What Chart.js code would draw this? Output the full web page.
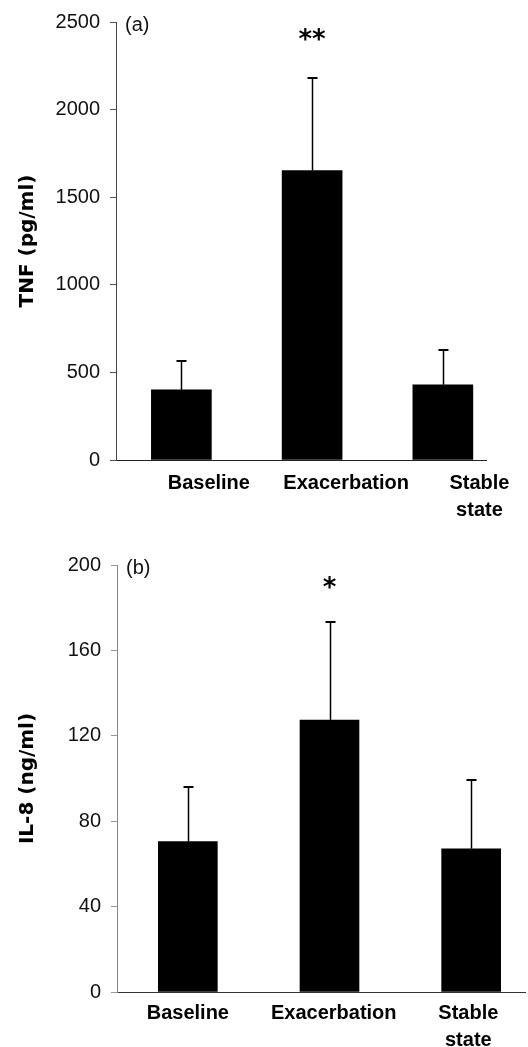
<!DOCTYPE html>
<html>
<head>
<meta charset="utf-8">
<script src="https://cdn.jsdelivr.net/npm/chart.js@4/dist/chart.umd.min.js"></script>
<style>
  html, body { margin: 0; padding: 0; background: #fff; }
  #wrap { position: relative; width: 528px; height: 1047px; overflow: hidden; }
  canvas { position: absolute; left: 0; }
  #tnf { top: 0; }
  #il8 { top: 520px; }
</style>
</head>
<body>
<div id="wrap">
  <canvas id="tnf" width="528" height="520"></canvas>
  <canvas id="il8" width="528" height="527"></canvas>
</div>
<script>
// Sputum cytokines at baseline, exacerbation and recovered stable state (mean + SEM)
const categories = ['Baseline', 'Exacerbation', 'Stable state'];

const tnfMean = [400, 1652, 429];
const tnfSem = [166, 526, 200];
const tnfTicks = [0, 500, 1000, 1500, 2000, 2500];

const il8Mean = [70.4, 127.4, 67.1];
const il8Sem = [25.5, 45.9, 32.2];
const il8Ticks = [0, 40, 80, 120, 160, 200];

// Upper whiskers, panel letter and significance stars
const whiskers = {
  id: 'whiskers',
  afterDatasetsDraw(chart, args, opts) {
    const { ctx, scales: { x, y } } = chart;
    const pts = chart.data.datasets[0].data;
    ctx.save();
    ctx.strokeStyle = '#000';
    pts.forEach((p, i) => {
      const px = Math.round(x.getPixelForValue(p.x)) + 0.5;
      const y0 = y.getPixelForValue(p.y);
      const y1 = Math.round(y.getPixelForValue(p.y + opts.errors[i]));
      ctx.lineWidth = 1.5;
      ctx.beginPath();
      ctx.moveTo(px, y0);
      ctx.lineTo(px, y1);
      ctx.stroke();
      ctx.lineWidth = 2;
      ctx.beginPath();
      ctx.moveTo(px - 5, y1);
      ctx.lineTo(px + 5, y1);
      ctx.stroke();
    });
    ctx.fillStyle = '#111';
    ctx.font = '20px "Liberation Sans"';
    ctx.textAlign = 'left';
    ctx.textBaseline = 'middle';
    ctx.fillText(opts.letter, chart.chartArea.left + 9, y.getPixelForValue(y.max) + 3);
    const si = opts.starIndex;
    ctx.fillStyle = '#000';
    ctx.font = 'bold 26px "DejaVu Sans"';
    ctx.textAlign = 'center';
    ctx.textBaseline = 'alphabetic';
    ctx.fillText(opts.stars, x.getPixelForValue(pts[si].x),
      y.getPixelForValue(pts[si].y + opts.errors[si]) - opts.starGap);
    ctx.restore();
  }
};

function makeChart(id, c) {
  return new Chart(document.getElementById(id), {
    type: 'bar',
    data: {
      datasets: [{
        data: c.means.map((v, i) => ({ x: i, y: v })),
        backgroundColor: '#000',
        borderWidth: 0,
        barThickness: c.barWidth
      }]
    },
    options: {
      responsive: false,
      animation: false,
      devicePixelRatio: 1,
      layout: { padding: { top: c.padTop, right: c.padRight, left: 0, bottom: 0 } },
      scales: {
        x: {
          type: 'linear',
          offset: false,
          bounds: 'data',
          min: -0.5,
          max: c.xMax,
          afterBuildTicks: s => { s.ticks = categories.map((n, i) => ({ value: i + c.labelNudge[i] })); },
          afterFit: s => { s.height = c.xAxisHeight; },
          grid: { display: false, drawTicks: false, offset: false },
          border: { display: true, color: c.xBorderColor, width: 1, dash: c.xBorderDash },
          ticks: {
            autoSkip: false,
            maxRotation: 0,
            minRotation: 0,
            padding: c.xTickPad,
            color: '#000',
            font: { family: '"Liberation Sans", Arial, sans-serif', size: 20, weight: 'bold', lineHeight: 1.35 },
            callback: (v, i) => categories[i].split(' ')
          }
        },
        y: {
          type: 'linear',
          min: c.ticks[0],
          max: c.ticks[c.ticks.length - 1],
          afterBuildTicks: s => { s.ticks = c.ticks.map(v => ({ value: v })); },
          afterFit: s => { s.width = c.axisLeft; },
          grid: { drawOnChartArea: false, drawTicks: true, tickLength: 6, tickColor: c.tickColor, tickWidth: 1 },
          border: { display: true, color: c.yBorderColor, width: 1, dash: c.yBorderDash },
          ticks: {
            padding: 10,
            color: '#111',
            font: { family: '"Liberation Sans"', size: 20 },
            callback: v => String(v)
          },
          title: {
            display: true,
            text: c.title,
            color: '#000',
            font: { family: '"DejaVu Sans"', size: 20, weight: 'bold' },
            padding: { top: 16, bottom: 0 }
          }
        }
      },
      plugins: {
        legend: { display: false },
        tooltip: { enabled: false },
        whiskers: {
          errors: c.errors,
          letter: c.letter,
          stars: c.stars,
          starIndex: 1,
          starGap: c.starGap
        }
      }
    },
    plugins: [whiskers]
  });
}

makeChart('tnf', {
  means: tnfMean, errors: tnfSem, ticks: tnfTicks,
  title: 'TNF (pg/ml)', letter: '(a)', stars: '**', starGap: 30,
  barWidth: 60, xMax: 2.33, labelNudge: [0.21, 0.26, 0.28],
  padTop: 22, padRight: 42, axisLeft: 116, xAxisHeight: 60, xTickPad: 10,
  xBorderColor: '#222', xBorderDash: [],
  yBorderColor: '#444', yBorderDash: [5, 3], tickColor: '#555'
});

makeChart('il8', {
  means: il8Mean, errors: il8Sem, ticks: il8Ticks,
  title: 'IL-8 (ng/ml)', letter: '(b)', stars: '*', starGap: 26,
  barWidth: 59, xMax: 2.38, labelNudge: [0, 0.03, -0.02],
  padTop: 45, padRight: 3, axisLeft: 117, xAxisHeight: 55, xTickPad: 8,
  xBorderColor: '#333', xBorderDash: [2, 3],
  yBorderColor: '#888', yBorderDash: [1, 11], tickColor: '#999'
});
</script>
</body>
</html>
